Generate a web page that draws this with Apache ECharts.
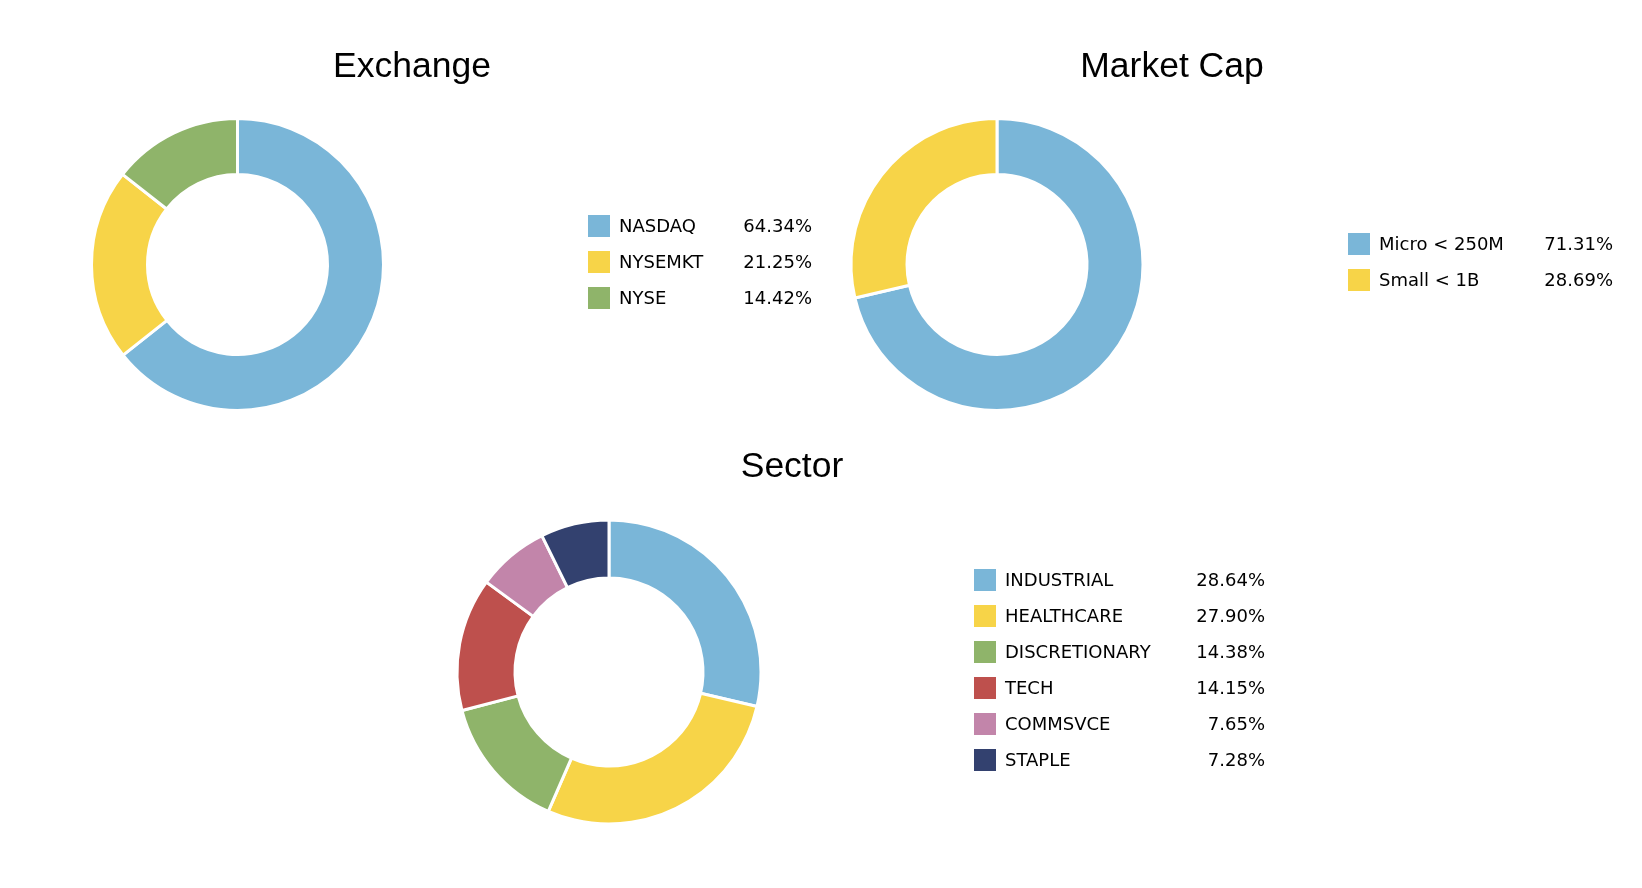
<!DOCTYPE html>
<html>
<head>
<meta charset="utf-8">
<script src="https://cdn.jsdelivr.net/npm/echarts@6/dist/echarts.min.js"></script>
<style>
html,body{margin:0;padding:0;background:#fff;}
#chart{width:1642px;height:888px;}
</style>
</head>
<body>
<div id="chart"></div>
<script>
// ---- data ----
const exchangeNames = ['NASDAQ', 'NYSEMKT', 'NYSE'];
const exchangeValues = [64.34, 21.25, 14.42];
const capNames = ['Micro < 250M', 'Small < 1B'];
const capValues = [71.31, 28.69];
const sectorNames = ['INDUSTRIAL', 'HEALTHCARE', 'DISCRETIONARY', 'TECH', 'COMMSVCE', 'STAPLE'];
const sectorValues = [28.64, 27.90, 14.38, 14.15, 7.65, 7.28];
const titles = ['Exchange', 'Market Cap', 'Sector'];
const palette = ['#7AB6D8', '#F7D448', '#8FB46A', '#BE504D', '#C285AA', '#33416F'];

const chart = echarts.init(document.getElementById('chart'), null, {renderer: 'canvas'});

function toData(names, values) {
  return names.map((n, i) => ({name: n, value: values[i], itemStyle: {color: palette[i]}}));
}
function pctMap(names, values) {
  const m = {};
  names.forEach((n, i) => { m[n] = values[i].toFixed(2) + '%'; });
  return m;
}
const pct = Object.assign({}, pctMap(exchangeNames, exchangeValues), pctMap(capNames, capValues), pctMap(sectorNames, sectorValues));

function makeLegend(names, left, top, nameW, pctW) {
  return {
    orient: 'vertical',
    left: left, top: top,
    padding: 0,
    itemWidth: 22, itemHeight: 22, itemGap: 14,
    icon: 'rect',
    selectedMode: false,
    data: names,
    itemStyle: {borderWidth: 0},
    formatter: function (name) { return '{n|' + name + '}{p|' + pct[name] + '}'; },
    textStyle: {
      fontFamily: 'DejaVu Sans', fontSize: 18, color: '#000',
      rich: {
        n: {fontFamily: 'DejaVu Sans', fontSize: 18, color: '#000', width: nameW, padding: [2, 0, 0, 4], lineHeight: 22},
        p: {fontFamily: 'DejaVu Sans', fontSize: 18, color: '#000', width: pctW, align: 'right', padding: [2, 0, 0, 0], lineHeight: 22}
      }
    }
  };
}

function makeTitle(text, x, y) {
  return {
    text: text, left: x, top: y, padding: 0,
    textAlign: 'center', textVerticalAlign: 'middle', textBaseline: 'middle',
    textStyle: {fontFamily: 'Liberation Sans', fontSize: 35.5, fontWeight: 'normal', color: '#000'}
  };
}

function makePie(names, values, cx, cy, rIn, rOut) {
  return {
    type: 'pie',
    center: [cx, cy],
    radius: [rIn, rOut],
    startAngle: 90,
    clockwise: true,
    avoidLabelOverlap: false,
    label: {show: false},
    labelLine: {show: false},
    emphasis: {disabled: true},
    itemStyle: {borderColor: '#fff', borderWidth: 3},
    data: toData(names, values)
  };
}

chart.setOption({
  animation: false,
  backgroundColor: '#fff',
  title: [
    makeTitle(titles[0], 412, 67),
    makeTitle(titles[1], 1172, 67),
    makeTitle(titles[2], 792, 467)
  ],
  legend: [
    makeLegend(exchangeNames, 588, 215, 110, 83),
    makeLegend(capNames, 1348, 233, 150, 84),
    makeLegend(sectorNames, 974, 569, 170, 90)
  ],
  series: [
    makePie(exchangeNames, exchangeValues, 237.5, 264.5, 90, 146),
    makePie(capNames, capValues, 997, 264.5, 90, 146),
    makePie(sectorNames, sectorValues, 609, 672, 94, 152)
  ]
});
</script>
</body>
</html>
